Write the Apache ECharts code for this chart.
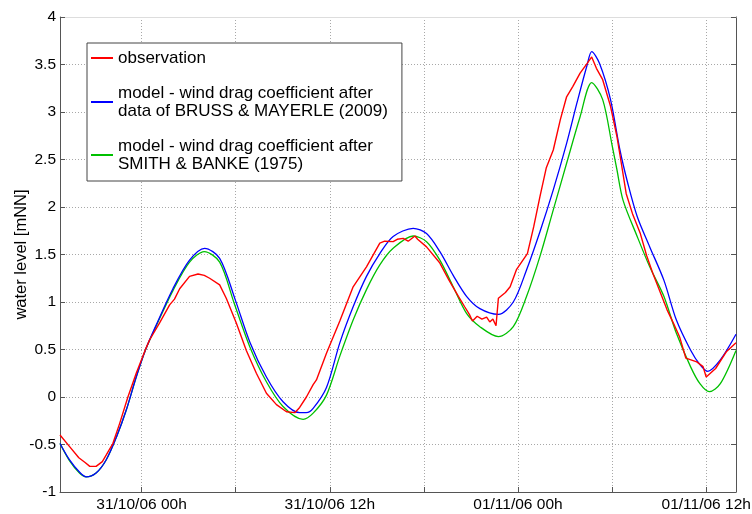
<!DOCTYPE html>
<html>
<head>
<meta charset="utf-8">
<script src="https://cdn.jsdelivr.net/npm/echarts@6/dist/echarts.min.js"></script>
<style>html,body{margin:0;padding:0;background:#fff;}#c{width:752px;height:514px;}</style>
</head>
<body>
<div id="c"></div>
<script>
// hours relative to 31/10/06 00h
const xTickHours = [0, 6, 12, 18, 24, 30, 36];
const xLabelHours = [0, 12, 24, 36];
const xLabelTexts = ['31/10/06 00h', '31/10/06 12h', '01/11/06 00h', '01/11/06 12h'];
const yTicks = [-1, -0.5, 0, 0.5, 1, 1.5, 2, 2.5, 3, 3.5, 4];

const seriesNames = [
  'observation',
  'model - wind drag coefficient after data of BRUSS & MAYERLE (2009)',
  'model - wind drag coefficient after SMITH & BANKE (1975)'
];
const legendTexts = [
  'observation',
  'model - wind drag coefficient after\ndata of BRUSS & MAYERLE (2009)',
  'model - wind drag coefficient after\nSMITH & BANKE (1975)'
];

const obsHours = [-5.2,-4.6,-4.0,-3.6,-3.3,-2.9,-2.5,-2.25,-1.83,-1.4,-0.87,-0.34,0.3,0.51,1.15,1.79,2.1,2.43,3.06,3.6,4.0,4.34,4.98,5.4,6.04,6.68,7.32,7.96,8.6,9.24,9.77,10.08,10.51,10.94,11.15,11.79,12.64,13.49,14.34,15.19,15.5,16.04,16.3,16.68,17.0,17.43,17.6,18.17,19.02,19.6,20.2,20.6,20.9,21.1,21.4,21.7,22.0,22.2,22.4,22.6,22.75,23.2,23.5,23.9,24.6,25.0,25.4,25.8,26.25,26.7,27.1,27.5,27.96,28.4,28.7,29.0,29.4,29.9,30.3,30.5,30.9,31.3,31.8,32.2,32.6,33.1,33.5,33.9,34.3,34.7,35.4,35.8,36.0,36.6,37.3,37.9];
const obsLevel = [-0.40,-0.52,-0.64,-0.69,-0.73,-0.73,-0.68,-0.61,-0.49,-0.28,0.0,0.25,0.52,0.60,0.78,0.97,1.03,1.14,1.27,1.295,1.28,1.25,1.18,1.04,0.78,0.49,0.25,0.04,-0.08,-0.155,-0.165,-0.11,0.0,0.13,0.18,0.46,0.80,1.16,1.37,1.62,1.64,1.635,1.66,1.67,1.64,1.695,1.66,1.58,1.41,1.23,1.06,0.95,0.87,0.80,0.85,0.82,0.84,0.79,0.82,0.75,1.04,1.10,1.16,1.34,1.51,1.79,2.11,2.41,2.6,2.92,3.16,3.27,3.41,3.51,3.58,3.46,3.34,3.06,2.75,2.55,2.14,1.93,1.72,1.49,1.30,1.09,0.92,0.78,0.635,0.41,0.37,0.32,0.21,0.30,0.48,0.57];

const bmHours = [-5.2,-4.6,-3.96,-3.53,-2.9,-2.25,-1.6,-0.98,-0.34,0.26,0.94,2.0,3.06,4.02,4.98,5.98,6.9,7.96,9.02,10.08,10.5,10.94,11.79,12.64,13.49,14.34,15.19,16.04,17.32,18.17,19.02,19.87,20.72,21.57,22.75,23.7,24.55,25.4,26.25,27.1,27.75,28.4,28.7,29.2,29.9,30.5,31.0,31.6,32.4,33.3,34.1,35.0,35.6,36.1,36.9,37.9];
const bmLevel = [-0.49,-0.66,-0.79,-0.84,-0.80,-0.66,-0.42,-0.14,0.21,0.50,0.76,1.14,1.44,1.565,1.46,1.02,0.58,0.21,-0.05,-0.165,-0.165,-0.12,0.10,0.57,0.95,1.27,1.51,1.69,1.775,1.72,1.53,1.28,1.06,0.93,0.87,1.0,1.34,1.74,2.18,2.67,3.09,3.49,3.635,3.51,3.13,2.6,2.25,1.9,1.58,1.23,0.81,0.495,0.34,0.27,0.39,0.66];

const sbHours = [-5.2,-4.6,-3.96,-3.53,-2.9,-2.25,-1.6,-0.98,-0.34,0.26,0.94,2.0,3.06,4.0,4.98,5.9,6.9,7.96,9.02,10.3,10.94,11.79,12.64,13.49,14.34,15.19,16.04,17.32,18.17,19.02,19.87,20.72,21.57,22.75,23.7,24.55,25.4,26.25,27.1,27.96,28.7,29.4,30.0,30.3,30.7,31.6,32.4,33.3,34.1,35.0,35.6,36.2,36.9,37.9];
const sbLevel = [-0.49,-0.67,-0.80,-0.84,-0.80,-0.66,-0.42,-0.14,0.21,0.50,0.75,1.12,1.42,1.53,1.42,0.99,0.53,0.16,-0.10,-0.235,-0.17,0.02,0.43,0.81,1.13,1.39,1.565,1.695,1.635,1.44,1.16,0.88,0.74,0.635,0.74,1.06,1.48,1.97,2.46,2.95,3.31,3.13,2.65,2.4,2.07,1.69,1.37,1.06,0.67,0.32,0.14,0.056,0.14,0.49];

const pairs = (xs, ys) => xs.map((x, i) => [x, ys[i]]);

const chart = echarts.init(document.getElementById('c'), null, {renderer: 'canvas'});
const font = 'Liberation Sans, Arial, sans-serif';
const gridLine = {show: true, lineStyle: {color: '#a8a8a8', type: [1, 2], width: 1}};

chart.setOption({
  animation: false,
  backgroundColor: '#ffffff',
  grid: {left: 60, right: 16, top: 17, bottom: 22, containLabel: false, outerBoundsMode: 'none'},
  legend: {
    show: true,
    left: 87, top: 43,
    orient: 'vertical',
    backgroundColor: '#ffffff',
    borderColor: '#444444', borderWidth: 1,
    padding: [6, 14, 8, 4],
    itemGap: 17,
    itemWidth: 22, itemHeight: 2,
    icon: 'rect',
    data: seriesNames,
    formatter: name => legendTexts[seriesNames.indexOf(name)],
    textStyle: {fontFamily: font, fontSize: 17, color: '#000', lineHeight: 18}
  },
  xAxis: [{
    type: 'value', min: -5.2, max: 37.9, position: 'bottom',
    axisLine: {show: true, onZero: false, lineStyle: {color: '#555', width: 1}},
    axisTick: {show: true, inside: true, length: 5, customValues: xTickHours, lineStyle: {color: '#555'}},
    axisLabel: {show: true, customValues: xLabelHours, margin: 5, color: '#000', fontFamily: font, fontSize: 15.5,
      formatter: v => { const i = xLabelHours.indexOf(v); return i >= 0 ? xLabelTexts[i] : ''; }},
    splitLine: gridLine
  }, {
    type: 'value', min: -5.2, max: 37.9, position: 'top',
    axisLine: {show: true, onZero: false, lineStyle: {color: '#dddddd', width: 1}},
    axisTick: {show: false}, axisLabel: {show: false}, splitLine: {show: false}
  }],
  yAxis: [{
    type: 'value', min: -1, max: 4, interval: 0.5, position: 'left',
    name: 'water level [mNN]', nameLocation: 'middle', nameGap: 30, nameMoveOverlap: false,
    nameTextStyle: {fontFamily: font, fontSize: 16.5, color: '#000'},
    axisLine: {show: true, onZero: false, lineStyle: {color: '#555', width: 1}},
    axisTick: {show: true, inside: true, length: 5, lineStyle: {color: '#555'}},
    axisLabel: {color: '#000', fontFamily: font, fontSize: 15.5, margin: 4,
      formatter: v => String(v)},
    splitLine: gridLine
  }, {
    type: 'value', min: -1, max: 4, interval: 0.5, position: 'right',
    axisLine: {show: true, onZero: false, lineStyle: {color: '#555', width: 1}},
    axisTick: {show: true, inside: true, length: 5, lineStyle: {color: '#555'}},
    axisLabel: {show: false}, splitLine: {show: false}
  }],
  series: [
    {name: seriesNames[1], type: 'line', xAxisIndex: 0, yAxisIndex: 0, data: pairs(bmHours, bmLevel),
      showSymbol: false, smooth: 0.3, lineStyle: {color: '#0000ff', width: 1.3}, itemStyle: {color: '#0000ff'}, z: 3},
    {name: seriesNames[2], type: 'line', xAxisIndex: 0, yAxisIndex: 0, data: pairs(sbHours, sbLevel),
      showSymbol: false, smooth: 0.3, lineStyle: {color: '#00c000', width: 1.3}, itemStyle: {color: '#00c000'}, z: 2},
    {name: seriesNames[0], type: 'line', xAxisIndex: 0, yAxisIndex: 0, data: pairs(obsHours, obsLevel),
      showSymbol: false, smooth: false, lineStyle: {color: '#ff0000', width: 1.4}, itemStyle: {color: '#ff0000'}, z: 4}
  ]
});
</script>
</body>
</html>
